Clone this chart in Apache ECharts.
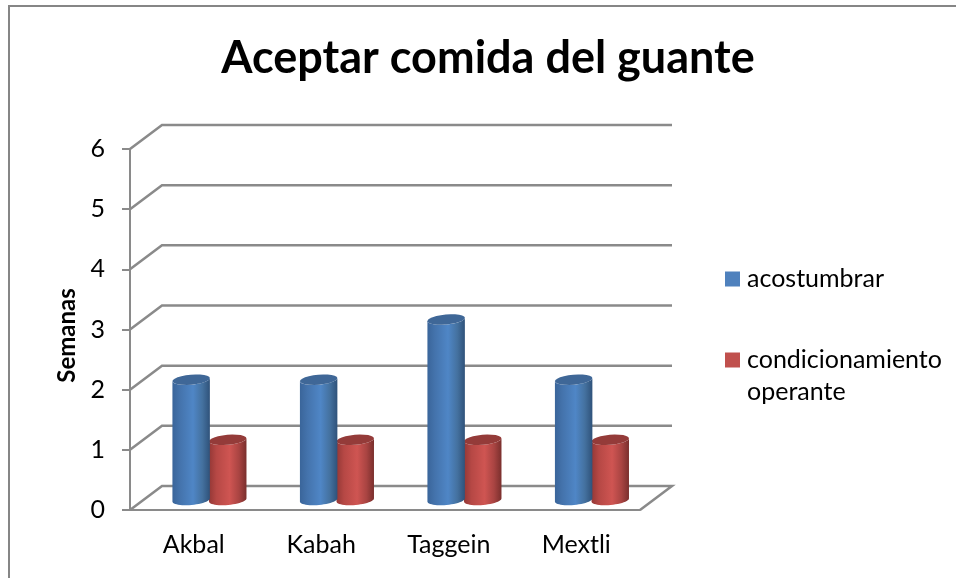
<!DOCTYPE html>
<html>
<head>
<meta charset="utf-8">
<style>html,body{margin:0;padding:0;background:#fff}#main{width:956px;height:578px}</style>
<script src="https://cdn.jsdelivr.net/npm/echarts@6/dist/echarts.min.js"></script>
</head>
<body>
<div id="main"></div>
<script>
var categories = ['Akbal', 'Kabah', 'Taggein', 'Mextli'];
var acostumbrar = [2, 2, 3, 2];
var condicionamiento = [1, 1, 1, 1];
var wallTicks = [0, 1, 2, 3, 4, 5, 6];

var fontName = 'Lato';
var lineColor = '#8a8a8a';
// depth of the fake 3d floor, in pixels
var depthX = 32;
var depthY = -24;

function toPairs(values) {
    return values.map(function (v, i) { return [i, v]; });
}

// points of a slightly tilted ellipse between two angles
function ellipsePoints(cx, cy, from, to) {
    var rx = 18.8, ry = 5, tilt = -0.09, pts = [];
    for (var i = 0; i <= 24; i++) {
        var t = from + (to - from) * i / 24;
        pts.push([
            cx + rx * Math.cos(t) * Math.cos(tilt) - ry * Math.sin(t) * Math.sin(tilt),
            cy + rx * Math.cos(t) * Math.sin(tilt) + ry * Math.sin(t) * Math.cos(tilt)
        ]);
    }
    return pts;
}

function cylinder(offsetX, stops, topColor) {
    return function (params, api) {
        var base = api.coord([api.value(0), 0]);
        var head = api.coord([api.value(0), api.value(1)]);
        var cx = base[0] + offsetX;
        var yBase = base[1] - 10;
        var yTop = head[1] - 10;
        // lower rim of the base, then back along the lower rim of the top
        var body = ellipsePoints(cx, yBase, 0, Math.PI)
            .concat(ellipsePoints(cx, yTop, Math.PI, 0));
        return {
            type: 'group',
            children: [
                {
                    type: 'polygon',
                    shape: { points: body },
                    style: { fill: new echarts.graphic.LinearGradient(0, 0, 1, 0, stops) }
                },
                {
                    type: 'polygon',
                    shape: { points: ellipsePoints(cx, yTop, 0, Math.PI * 2) },
                    style: { fill: topColor }
                }
            ]
        };
    };
}

var blueStops = [
    { offset: 0, color: '#3a659a' },
    { offset: 0.2, color: '#4473ac' },
    { offset: 0.55, color: '#4f86c6' },
    { offset: 0.8, color: '#44719f' },
    { offset: 1, color: '#2f527a' }
];
var redStops = [
    { offset: 0, color: '#943836' },
    { offset: 0.2, color: '#b64845' },
    { offset: 0.55, color: '#cf5552' },
    { offset: 0.8, color: '#a94442' },
    { offset: 1, color: '#7a2f2d' }
];

var myChart = echarts.init(document.getElementById('main'));
var option = {
    animation: false,
    backgroundColor: '#fff',
    title: {
        text: 'Aceptar comida del guante',
        left: 483,
        top: 31,
        textAlign: 'center',
        textStyle: { fontFamily: fontName, fontWeight: 'bold', fontSize: 45, color: '#000' }
    },
    grid: { left: 130, right: 316, top: 149, bottom: 68 },
    legend: {
        orient: 'vertical',
        left: 720,
        top: 258,
        icon: 'rect',
        itemWidth: 15,
        itemHeight: 15,
        itemGap: 17,
        selectedMode: false,
        textStyle: { fontFamily: fontName, fontSize: 25, color: '#000', lineHeight: 32, padding: [0, 0, 0, 2] },
        // blank first line keeps the marker level with the first line of text
        formatter: function (name) {
            return name.indexOf(' ') > 0 ? ' \n' + name.replace(' ', '\n') : name;
        },
        data: ['acostumbrar', 'condicionamiento operante']
    },
    xAxis: {
        type: 'category',
        data: categories,
        axisLine: { lineStyle: { color: lineColor, width: 2 } },
        axisTick: { length: 8, lineStyle: { color: lineColor, width: 2 } },
        axisLabel: { margin: 22, fontFamily: fontName, fontSize: 25, color: '#000' }
    },
    yAxis: {
        type: 'value',
        min: 0,
        max: 6,
        interval: 1,
        name: 'Semanas',
        nameLocation: 'middle',
        nameGap: 51,
        nameTextStyle: { fontFamily: fontName, fontWeight: 'bold', fontSize: 24, color: '#000', padding: [0, 12, 0, 0] },
        splitLine: { show: false },
        axisLine: { show: true, lineStyle: { color: lineColor, width: 2 } },
        axisTick: { show: true, length: 8, lineStyle: { color: lineColor, width: 2 } },
        axisLabel: { margin: 25, fontFamily: fontName, fontSize: 25, color: '#000', padding: [4, 0, 0, 0] }
    },
    series: [
        {
            // back wall and floor lines
            type: 'custom',
            silent: true,
            z: 1,
            data: toPairs(wallTicks).map(function (d) { return [0, d[1]]; }),
            encode: { x: 0, y: 1 },
            renderItem: function (params, api) {
                var y = api.coord([0, api.value(1)])[1];
                var left = params.coordSys.x;
                var right = left + params.coordSys.width;
                var points = [[left, y], [left + depthX, y + depthY], [right + depthX, y + depthY]];
                if (api.value(1) === 0) {
                    points.push([right, y]);
                }
                return {
                    type: 'polyline',
                    shape: { points: points },
                    style: { stroke: lineColor, lineWidth: 2.5, fill: null }
                };
            }
        },
        {
            name: 'acostumbrar',
            type: 'custom',
            z: 3,
            itemStyle: { color: '#4f81bd' },
            data: toPairs(acostumbrar),
            encode: { x: 0, y: 1 },
            renderItem: cylinder(-2.6, blueStops, '#3f6797')
        },
        {
            name: 'condicionamiento operante',
            type: 'custom',
            z: 2,
            itemStyle: { color: '#c0504d' },
            data: toPairs(condicionamiento),
            encode: { x: 0, y: 1 },
            renderItem: cylinder(34, redStops, '#943b39')
        }
    ],
    graphic: [
        {
            // chart frame, the right and bottom edges fall outside the crop
            type: 'polyline',
            silent: true,
            shape: { points: [[9, 578], [9, 6], [956, 6]] },
            style: { stroke: '#868686', lineWidth: 2, fill: null }
        }
    ]
};
myChart.setOption(option);
</script>
</body>
</html>
